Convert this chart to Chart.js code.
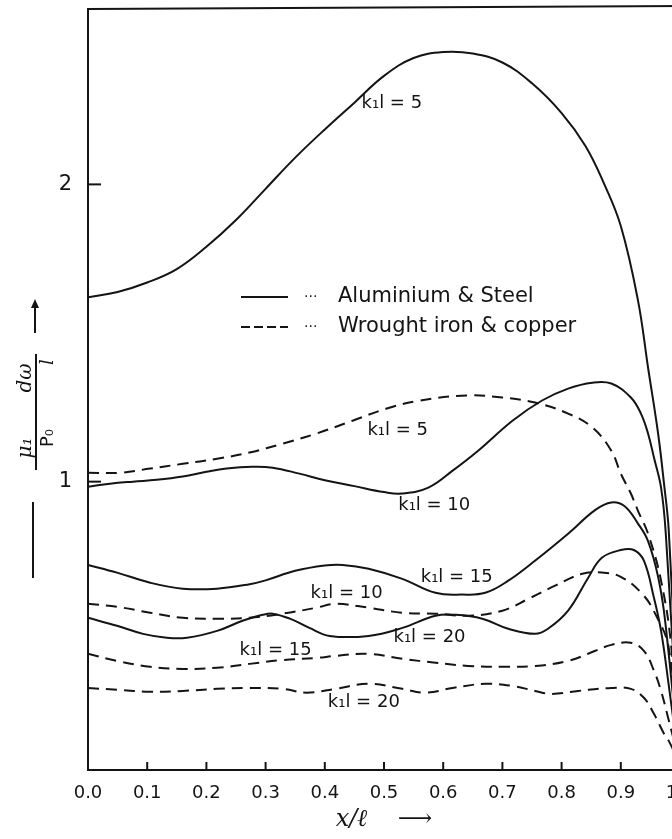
<!DOCTYPE html>
<html lang="en">
<head>
  <meta charset="UTF-8" />
  <title>Moment gradient along the bar</title>
  <script src="https://cdn.jsdelivr.net/npm/chart.js"></script>
  <style>
    html, body { margin: 0; padding: 0; background: #fff; overflow: hidden; }
    #wrap { width: 700px; height: 839px; }
  </style>
</head>
<body>
  <div id="wrap"><canvas id="chart" width="700" height="839"></canvas></div>
  <script>
    // tick values
    const xTicks = [0, 0.1, 0.2, 0.3, 0.4, 0.5, 0.6, 0.7, 0.8, 0.9, 1.0];
    const yTicks = [1, 2];

    // Aluminium & Steel (solid) -- [x/l, value]
    const steel5 = [[0,1.62],[0.05,1.638],[0.1,1.67],[0.15,1.715],[0.2,1.79],[0.25,1.88],[0.3,1.985],[0.35,2.09],[0.4,2.185],[0.45,2.275],[0.5,2.365],[0.55,2.425],[0.6,2.445],[0.65,2.44],[0.7,2.41],[0.75,2.34],[0.8,2.24],[0.84,2.13],[0.87,2.01],[0.9,1.86],[0.929,1.61],[0.946,1.384],[0.963,1.162],[0.973,0.993],[0.981,0.835],[1.0,0.03]];
    const steel10 = [[0,0.983],[0.037,0.993],[0.076,1.0],[0.116,1.006],[0.16,1.017],[0.2,1.033],[0.234,1.044],[0.278,1.05],[0.312,1.047],[0.357,1.027],[0.4,1.005],[0.45,0.985],[0.5,0.965],[0.53,0.96],[0.575,0.98],[0.616,1.037],[0.659,1.104],[0.717,1.205],[0.767,1.273],[0.811,1.313],[0.852,1.333],[0.884,1.33],[0.917,1.283],[0.934,1.229],[0.946,1.162],[0.956,1.081],[0.968,0.98],[0.976,0.825],[1.0,0.03]];
    const steel15 = [[0,0.72],[0.049,0.694],[0.105,0.66],[0.16,0.64],[0.218,0.64],[0.273,0.655],[0.3,0.668],[0.35,0.70],[0.4,0.718],[0.43,0.72],[0.474,0.707],[0.531,0.673],[0.587,0.626],[0.632,0.62],[0.671,0.626],[0.71,0.667],[0.755,0.734],[0.811,0.825],[0.857,0.905],[0.884,0.93],[0.906,0.918],[0.929,0.859],[0.946,0.80],[0.963,0.68],[0.975,0.53],[1.0,0.03]];
    const steel20 = [[0,0.542],[0.049,0.515],[0.093,0.488],[0.133,0.475],[0.167,0.475],[0.218,0.498],[0.261,0.532],[0.295,0.552],[0.312,0.556],[0.341,0.539],[0.374,0.508],[0.408,0.481],[0.474,0.481],[0.531,0.508],[0.587,0.549],[0.621,0.552],[0.666,0.539],[0.71,0.505],[0.755,0.488],[0.777,0.505],[0.811,0.566],[0.845,0.677],[0.868,0.744],[0.9,0.77],[0.922,0.77],[0.939,0.734],[0.956,0.609],[0.968,0.498],[0.98,0.33],[1.0,0.03]];

    // Wrought iron & copper (dashed)
    const iron5 = [[0,1.03],[0.054,1.03],[0.105,1.044],[0.16,1.06],[0.218,1.077],[0.273,1.098],[0.329,1.128],[0.386,1.162],[0.447,1.205],[0.503,1.245],[0.558,1.272],[0.642,1.29],[0.70,1.283],[0.755,1.266],[0.811,1.229],[0.852,1.182],[0.884,1.104],[0.9,1.027],[0.917,0.96],[0.929,0.902],[0.946,0.825],[0.968,0.667],[0.985,0.45],[1.0,0.05]];
    const iron10 = [[0,0.589],[0.049,0.579],[0.105,0.559],[0.16,0.542],[0.218,0.539],[0.273,0.542],[0.329,0.556],[0.386,0.576],[0.418,0.589],[0.474,0.576],[0.531,0.559],[0.587,0.556],[0.642,0.549],[0.70,0.566],[0.744,0.606],[0.789,0.65],[0.835,0.69],[0.868,0.694],[0.9,0.68],[0.936,0.623],[0.958,0.556],[0.981,0.441],[1.0,0.05]];
    const iron15 = [[0,0.421],[0.049,0.397],[0.105,0.377],[0.16,0.37],[0.218,0.374],[0.273,0.387],[0.329,0.40],[0.386,0.407],[0.418,0.414],[0.474,0.421],[0.531,0.404],[0.587,0.391],[0.642,0.38],[0.70,0.377],[0.755,0.38],[0.811,0.397],[0.857,0.431],[0.884,0.451],[0.917,0.458],[0.939,0.431],[0.956,0.364],[0.968,0.296],[0.98,0.205],[1.0,0.05]];
    const iron20 = [[0,0.306],[0.049,0.30],[0.105,0.293],[0.16,0.296],[0.218,0.303],[0.273,0.306],[0.329,0.303],[0.369,0.29],[0.418,0.303],[0.474,0.32],[0.531,0.303],[0.57,0.29],[0.616,0.306],[0.671,0.32],[0.717,0.313],[0.755,0.296],[0.784,0.286],[0.828,0.296],[0.884,0.306],[0.917,0.303],[0.939,0.273],[0.956,0.219],[0.973,0.152],[0.981,0.128],[1.0,0.05]];

    // curve labels, anchored in data units (left edge, middle)
    const curveLabels = [
      ["k₁l = 5", 0.462, 2.273],
      ["k₁l = 5", 0.472, 1.172],
      ["k₁l = 10", 0.524, 0.919],
      ["k₁l = 15", 0.562, 0.677],
      ["k₁l = 10", 0.376, 0.626],
      ["k₁l = 20", 0.516, 0.475],
      ["k₁l = 15", 0.256, 0.431],
      ["k₁l = 20", 0.405, 0.256]
    ];

    const INK = "#141414";
    const DASH = [11, 7];

    const solid = [steel5, steel10, steel15, steel20];
    const dashed = [iron5, iron10, iron15, iron20];
    const datasets = [];
    solid.forEach(d => datasets.push({ data: d.map(p => ({ x: p[0], y: p[1] })), borderColor: INK, borderWidth: 2 }));
    dashed.forEach(d => datasets.push({ data: d.map(p => ({ x: p[0], y: p[1] })), borderColor: INK, borderWidth: 2, borderDash: DASH }));

    const decor = {
      id: "decor",
      afterDraw(chart) {
        const ctx = chart.ctx;
        const a = chart.chartArea;
        const xs = chart.scales.x, ys = chart.scales.y;
        ctx.save();
        ctx.strokeStyle = INK;
        ctx.fillStyle = INK;
        ctx.lineWidth = 2;

        // top frame line
        ctx.beginPath();
        ctx.moveTo(a.left, a.top);
        ctx.lineTo(a.right + 5, a.top - 3);
        ctx.stroke();

        // inward tick marks
        xTicks.slice(1).forEach(v => {
          const px = xs.getPixelForValue(v);
          ctx.beginPath(); ctx.moveTo(px, a.bottom); ctx.lineTo(px, a.bottom - 8); ctx.stroke();
        });
        yTicks.forEach(v => {
          const py = ys.getPixelForValue(v);
          ctx.beginPath(); ctx.moveTo(a.left, py); ctx.lineTo(a.left + 13, py); ctx.stroke();
        });

        // curve labels
        ctx.font = "18px 'DejaVu Sans'";
        ctx.textBaseline = "middle";
        ctx.textAlign = "left";
        curveLabels.forEach(l => {
          ctx.fillText(l[0], xs.getPixelForValue(l[1]), ys.getPixelForValue(l[2]));
        });

        // legend
        const lx = 241, ly = [297, 327];
        ctx.lineWidth = 2;
        ctx.beginPath(); ctx.moveTo(lx, ly[0]); ctx.lineTo(lx + 47, ly[0]); ctx.stroke();
        ctx.setLineDash([9, 4]);
        ctx.beginPath(); ctx.moveTo(lx, ly[1]); ctx.lineTo(lx + 47, ly[1]); ctx.stroke();
        ctx.setLineDash([]);
        ctx.font = "21px 'DejaVu Sans'";
        ctx.fillText("Aluminium & Steel", 338, ly[0]);
        ctx.fillText("Wrought iron & copper", 338, ly[1]);
        ctx.font = "14px 'DejaVu Sans'";
        ctx.fillText("···", 304, ly[0]);
        ctx.fillText("···", 304, ly[1]);

        // rotated y-axis label
        ctx.translate(36, 412);
        ctx.rotate(-Math.PI / 2);
        ctx.lineWidth = 2;
        ctx.beginPath(); ctx.moveTo(-58, 0); ctx.lineTo(58, 0); ctx.stroke();
        ctx.beginPath(); ctx.moveTo(-166, -3); ctx.lineTo(-90, -3); ctx.stroke();
        // arrow
        ctx.beginPath(); ctx.moveTo(79, -1); ctx.lineTo(110, -1); ctx.stroke();
        ctx.beginPath(); ctx.moveTo(113, -1); ctx.lineTo(104, -5); ctx.lineTo(104, 3); ctx.closePath(); ctx.fill();
        ctx.textAlign = "center";
        ctx.font = "italic 20px 'DejaVu Serif'";
        ctx.textBaseline = "alphabetic";
        ctx.fillText("μ₁", -36, -5);
        ctx.fillText("dω", 34, -5);
        ctx.textBaseline = "top";
        ctx.font = "18px 'DejaVu Sans'";
        ctx.fillText("P₀", -26, 3);
        ctx.font = "italic 18px 'DejaVu Serif'";
        ctx.fillText("l", 50, 3);
        ctx.restore();
      }
    };

    new Chart(document.getElementById("chart"), {
      type: "line",
      data: { datasets },
      options: {
        responsive: false,
        animation: false,
        layout: { padding: { top: 9, right: 20, left: 0, bottom: 0 } },
        plugins: { legend: { display: false }, tooltip: { enabled: false } },
        elements: { point: { radius: 0 }, line: { tension: 0.4, fill: false } },
        scales: {
          x: {
            type: "linear", min: 0, max: 1,
            afterBuildTicks: s => { s.ticks = xTicks.map(v => ({ value: v })); },
            afterFit: s => { s.height = 69; s.paddingLeft = 0; s.paddingRight = 0; },
            grid: { display: false, drawTicks: false },
            border: { display: true, color: INK, width: 2 },
            ticks: {
              padding: 13, color: INK, autoSkip: false, maxRotation: 0,
              font: { family: "'DejaVu Sans'", size: 18 },
              callback: v => v.toFixed(1)
            },
            title: {
              display: true, text: "x/ℓ    ⟶", color: INK,
              font: { family: "'DejaVu Serif'", size: 24, style: "italic" },
              padding: { top: 0, bottom: 5 }
            }
          },
          y: {
            type: "linear", min: 0.03, max: 2.59,
            afterBuildTicks: s => { s.ticks = yTicks.map(v => ({ value: v })); },
            afterFit: s => { s.width = 88; s.paddingTop = 0; s.paddingBottom = 0; },
            grid: { display: false, drawTicks: false },
            border: { display: true, color: INK, width: 2 },
            ticks: {
              padding: 16, color: INK,
              font: { family: "'DejaVu Sans'", size: 21 },
              callback: v => String(v)
            }
          }
        }
      },
      plugins: [decor]
    });
  </script>
</body>
</html>
